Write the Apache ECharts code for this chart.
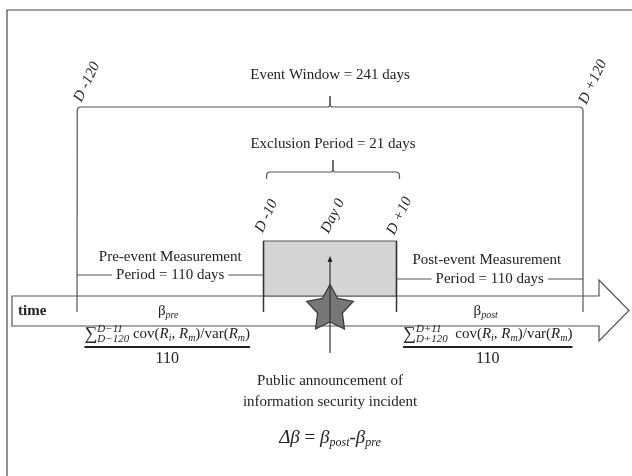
<!DOCTYPE html>
<html><head><meta charset="utf-8">
<script src="https://cdn.jsdelivr.net/npm/echarts@6/dist/echarts.min.js"></script>
<style>html,body{margin:0;padding:0;background:#fff}#c{width:632px;height:476px}</style>
</head><body><div id="c"></div>
<script>
// ---------- data ----------
const dayMarks = [-120, -10, 0, 10, 120];
const dayLabels = ['D -120', 'D -10', 'Day 0', 'D +10', 'D +120'];
const eventWindow = [-120, 120];
const exclusionWindow = [-10, 10];
const preWindow = [-120, -11];
const postWindow = [11, 120];
const windowDays = [241, 21, 110, 110]; // event, exclusion, pre, post
const announcementDay = 0;

// ---------- schematic (broken) day scale ----------
const K = 0.255; // days outside the exclusion window are drawn compressed
const sx = d => Math.abs(d) <= 10 ? d : Math.sign(d) * (10 + (Math.abs(d) - 10) * K);

// ---------- layout (rows in px on the hidden y axis) ----------
const Y = {
  eventText: 75, bigBrace: 107, exclText: 144, smallBrace: 172,
  boxTop: 241, pre1: 257, pre2: 275, post1: 260, post2: 279,
  arrowTop: 296, arrowBot: 326, headTop: 280, headBot: 341,
  tickBot: 312, row: 311, numer: 334, rule: 347, denom: 359,
  pub1: 381, pub2: 402, delta: 438, dayTop: 256, dayBot: 353, star: 309,
  outerLabel: 82, innerLabel: 216
};
const FONT = '"Liberation Serif", "Times New Roman", serif';
const f = (size, style, weight) => [style || '', weight || '', size + 'px', FONT].join(' ').trim();
const INK = '#222', LINE = '#555';
const ctx2 = document.createElement('canvas').getContext('2d');
const tw = (t, font) => { ctx2.font = font; return ctx2.measureText(t).width; };

function renderItem(params, api) {
  const kids = [];
  const X = d => api.coord([sx(d), 0])[0];
  const Py = y => api.coord([0, y])[1];
  const line = (pts, stroke, w) => kids.push({type: 'polyline', silent: true, shape: {points: pts}, style: {stroke: stroke || LINE, lineWidth: w || 1.2, fill: null}});
  const txt = (t, x, y, font, align, rot) => kids.push({type: 'text', x: x, y: y, rotation: rot || 0, silent: true,
    style: {text: t, x: 0, y: 0, font: font, fill: INK, align: align || 'center', verticalAlign: 'middle'}});
  const quad = (p0, c, p1) => { const o = []; for (let i = 1; i <= 4; i++) { const t = i / 4, a = (1 - t) * (1 - t), b = 2 * (1 - t) * t, e = t * t;
    o.push([a * p0[0] + b * c[0] + e * p1[0], a * p0[1] + b * c[1] + e * p1[1]]); } return o; };
  function run(parts, cx, cy) {
    const ws = parts.map(p => p.stack ? Math.max.apply(null, p.stack.map(s => tw(s, p.font))) : tw(p.t, p.font));
    const total = ws.reduce((a, b) => a + b, 0);
    let x = cx - total / 2; const start = x;
    parts.forEach((p, i) => {
      if (p.stack) { txt(p.stack[0], x, cy - 5, p.font, 'left'); txt(p.stack[1], x, cy + 5, p.font, 'left'); }
      else txt(p.t, x, cy + (p.dy || 0), p.font, 'left');
      x += ws[i];
    });
    return [start, x];
  }
  function brace(x1, x2, yb, tip, legL, legR) {
    const xm = (x1 + x2) / 2, r = 4;
    line([[x1, legL]].concat(quad([x1, yb + r], [x1, yb], [x1 + r, yb]), [[xm - 3, yb]], quad([xm - 3, yb], [xm, yb], [xm, yb - 3]), [[xm, yb - tip]]));
    line([[xm, yb - tip], [xm, yb - 3]].concat(quad([xm, yb - 3], [xm, yb], [xm + 3, yb]), [[x2 - r, yb]], quad([x2 - r, yb], [x2, yb], [x2, yb + r]), [[x2, legR]]));
  }
  const xL = X(eventWindow[0]), xR = X(eventWindow[1]);
  const xa = X(exclusionWindow[0]), xb = X(exclusionWindow[1]), x0 = X(announcementDay);

  // time arrow
  const aL = xL - 65, aB = xR + 16, aT = xR + 46;
  kids.push({type: 'polygon', silent: true, shape: {points: [[aL, Py(Y.arrowTop)], [aB, Py(Y.arrowTop)], [aB, Py(Y.headTop)], [aT, Py((Y.headTop + Y.headBot) / 2)],
    [aB, Py(Y.headBot)], [aB, Py(Y.arrowBot)], [aL, Py(Y.arrowBot)]]}, style: {fill: '#fff', stroke: LINE, lineWidth: 1.2}});
  // exclusion box
  kids.push({type: 'rect', silent: true, shape: {x: xa, y: Py(Y.boxTop), width: xb - xa, height: Py(Y.arrowTop) - Py(Y.boxTop)},
    style: {fill: '#d4d4d4', stroke: '#555', lineWidth: 1.2}});
  // star (announcement)
  const sp = []; const R = 24.5, r = 13, cy = Py(Y.star);
  for (let i = 0; i < 10; i++) { const ang = -Math.PI / 2 + i * Math.PI / 5, rr = i % 2 ? r : R; sp.push([x0 + rr * Math.cos(ang), cy + rr * Math.sin(ang)]); }
  kids.push({type: 'polygon', silent: true, shape: {points: sp}, style: {fill: '#777', stroke: '#3a3a3a', lineWidth: 1.3}});
  // vertical day lines
  line([[xa, Py(Y.boxTop)], [xa, Py(Y.tickBot)]], '#333', 1.5);
  line([[xb, Py(Y.boxTop)], [xb, Py(Y.tickBot)]], '#333', 1.5);
  line([[x0, Py(Y.dayTop) + 5], [x0, Py(Y.dayBot)]], '#333', 1.2);
  kids.push({type: 'polygon', silent: true, shape: {points: [[x0, Py(Y.dayTop)], [x0 - 2.5, Py(Y.dayTop) + 6], [x0 + 2.5, Py(Y.dayTop) + 6]]}, style: {fill: '#222'}});
  // braces
  brace(xL, xR, Py(Y.bigBrace), 11, Py(Y.tickBot), Py(Y.tickBot));
  brace(xa + 3, xb + 3, Py(Y.smallBrace), 12, Py(Y.smallBrace) + 7, Py(Y.smallBrace) + 7);

  // texts
  txt('Event Window = ' + windowDays[0] + ' days', (xL + xR) / 2, Py(Y.eventText), f(15));
  txt('Exclusion Period = ' + windowDays[1] + ' days', (xa + xb) / 2 + 3, Py(Y.exclText), f(15));
  const rot = 64 * Math.PI / 180;
  dayMarks.forEach((d, i) => {
    const outer = Math.abs(d) > 10;
    txt(dayLabels[i], X(d) + (outer ? 10 : 3), Py(outer ? Y.outerLabel : Y.innerLabel), f(15, 'italic'), 'center', rot);
  });
  // measurement periods
  const pm = (xL + xa) / 2, qm = (xb + xR) / 2;
  const per = p => 'Period = ' + p + ' days';
  txt('Pre-event Measurement', pm, Py(Y.pre1), f(15));
  txt(per(windowDays[2]), pm, Py(Y.pre2), f(15));
  let w = tw(per(windowDays[2]), f(15)) / 2 + 4;
  line([[xL, Py(Y.pre2)], [pm - w, Py(Y.pre2)]]); line([[pm + w, Py(Y.pre2)], [xa, Py(Y.pre2)]]);
  txt('Post-event Measurement', qm - 3, Py(Y.post1), f(15));
  txt(per(windowDays[3]), qm, Py(Y.post2), f(15));
  w = tw(per(windowDays[3]), f(15)) / 2 + 4;
  line([[xb, Py(Y.post2)], [qm - w, Py(Y.post2)]]); line([[qm + w, Py(Y.post2)], [xR, Py(Y.post2)]]);
  // time + betas
  txt('time', aL + 6, Py(Y.row), f(15, '', 'bold'), 'left');
  run([{t: 'β', font: f(15)}, {t: 'pre', font: f(10, 'italic'), dy: 4}], pm - 2, Py(Y.row));
  run([{t: 'β', font: f(15)}, {t: 'post', font: f(10, 'italic'), dy: 4}], qm - 4, Py(Y.row));
  // formulas
  function formula(lim, gap, cx) {
    const sub = f(10, 'italic'), it = f(15, 'italic'), rm = f(15);
    const ext = run([{t: '∑', font: f(18)}, {stack: lim, font: f(11, 'italic')}, {t: gap + 'cov(', font: rm}, {t: 'R', font: it}, {t: 'i', font: sub, dy: 4},
      {t: ', ', font: rm}, {t: 'R', font: it}, {t: 'm', font: sub, dy: 4}, {t: ')/var(', font: rm}, {t: 'R', font: it}, {t: 'm', font: sub, dy: 4}, {t: ')', font: rm}], cx, Py(Y.numer));
    line([[ext[0], Py(Y.rule)], [ext[1], Py(Y.rule)]], '#222', 1.8);
    txt(String(windowDays[2]), cx, Py(Y.denom), f(16));
  }
  formula(['D−11', 'D−120'], ' ', pm - 3);
  formula(['D+11', 'D+120'], '  ', qm - 2);
  // announcement
  txt('Public announcement of', x0, Py(Y.pub1), f(15));
  txt('information security incident', x0, Py(Y.pub2), f(15));
  const big = f(19, 'italic'), bs = f(12, 'italic');
  run([{t: 'Δβ', font: big}, {t: ' = ', font: f(19)}, {t: 'β', font: big}, {t: 'post', font: bs, dy: 5}, {t: '-', font: f(19)}, {t: 'β', font: big}, {t: 'pre', font: bs, dy: 5}], x0, Py(Y.delta));
  return {type: 'group', children: kids};
}

const chart = echarts.init(document.getElementById('c'), null, {renderer: 'canvas'});
chart.setOption({
  animation: false,
  backgroundColor: '#fff',
  grid: {left: 77, right: 49, top: 0, bottom: 0},
  xAxis: {type: 'value', min: sx(eventWindow[0]), max: sx(eventWindow[1]), show: false},
  yAxis: {type: 'value', min: 0, max: 476, inverse: true, show: false},
  graphic: [{type: 'rect', silent: true, z: -1, shape: {x: 7, y: 10, width: 700, height: 600}, style: {fill: 'transparent', stroke: '#4a4a4a', lineWidth: 1.2}}],
  series: [{type: 'custom', coordinateSystem: 'cartesian2d', clip: false, data: [[0, 0]], renderItem: renderItem}]
});
</script>
</body></html>
